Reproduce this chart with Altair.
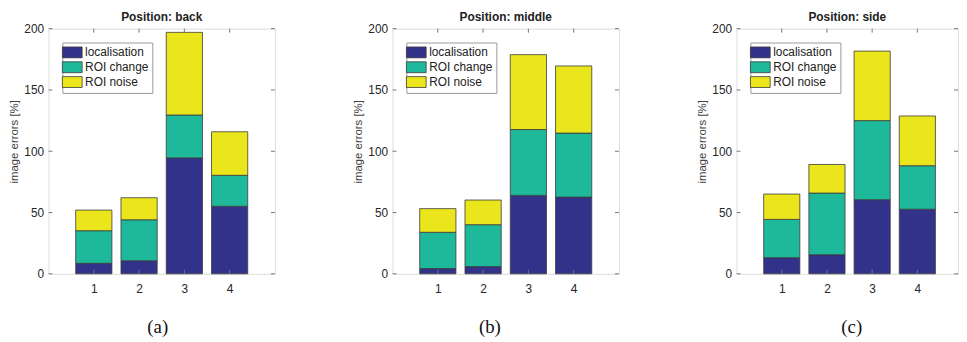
import altair as alt
import pandas as pd

categories = [1, 2, 3, 4]
components = ["localisation", "ROI change", "ROI noise"]
colors = ["#33328a", "#1eb99b", "#ebe61c"]
panel_names = ["back", "middle", "side"]
captions = ["(a)", "(b)", "(c)"]
y_ticks = [0, 50, 100, 150, 200]

back_loc = [8.6, 10.7, 94.6, 55.1]
back_change = [26.6, 33.4, 35.0, 25.3]
back_noise = [16.8, 18.0, 67.4, 35.5]

middle_loc = [4.3, 5.9, 64.0, 62.6]
middle_change = [29.6, 34.2, 53.7, 52.2]
middle_noise = [19.3, 20.1, 61.1, 54.8]

side_loc = [13.2, 15.6, 60.5, 52.7]
side_change = [31.2, 50.3, 64.5, 35.5]
side_noise = [20.7, 23.3, 56.7, 40.6]

series = {
    "back": [back_loc, back_change, back_noise],
    "middle": [middle_loc, middle_change, middle_noise],
    "side": [side_loc, side_change, side_noise],
}

H = 248
UNIT = 45.8
x_domains = {"back": [0, 5], "middle": [0, 5], "side": [0, 4.9]}
caption_x = {"back": 110, "middle": 98, "side": 116}

FONT = "Liberation Sans"


def make_panel(name, caption):
    rows = []
    for k, (comp, vals) in enumerate(zip(components, series[name])):
        for c, v in zip(categories, vals):
            rows.append({"cat": c, "comp": comp, "order": k, "value": v})
    df = pd.DataFrame(rows)
    dom = x_domains[name]
    W = round((dom[1] - dom[0]) * UNIT)
    xscale = alt.Scale(domain=dom, nice=False, zero=False)
    yscale = alt.Scale(domain=[0, 200], nice=False)

    bars = (
        alt.Chart(df)
        .transform_stack(
            stack="value", groupby=["cat"], as_=["y0", "y1"],
            sort=[alt.SortField("order", order="ascending")],
        )
        .transform_calculate(x0="datum.cat - 0.4", x1="datum.cat + 0.4")
        .mark_bar(stroke="#3a3a3a", strokeWidth=0.8)
        .encode(
            x=alt.X(
                "x0:Q", scale=xscale,
                axis=alt.Axis(
                    values=categories, tickSize=0, domain=False, grid=False,
                    labelPadding=10, labelFontSize=12, labelFont=FONT,
                    labelColor="#262626", title=caption,
                    titleFont="Liberation Serif", titleFontSize=19,
                    titleFontWeight="normal", titleColor="#111",
                    titleX=caption_x[name], titleY=53, titleBaseline="middle",
                    titleAlign="center", titleAnchor="start",
                ),
            ),
            x2="x1:Q",
            y=alt.Y(
                "y0:Q", scale=yscale,
                axis=alt.Axis(
                    values=y_ticks, tickSize=0, domain=False, grid=False,
                    labelPadding=5, labelFontSize=12, labelFont=FONT,
                    labelColor="#262626", title="image errors [%]",
                    titleFont=FONT, titleFontSize=11.5, titleFontWeight="normal",
                    titleColor="#404040", titlePadding=4, titleY=114,
                ),
            ),
            y2="y1:Q",
            color=alt.Color(
                "comp:N",
                scale=alt.Scale(domain=components, range=colors),
                legend=alt.Legend(
                    orient="none", legendX=14, legendY=14, title=None,
                    strokeColor="#9a9a9a", fillColor="white", padding=3,
                    symbolType="M-1.6,-0.88H1.6V0.88H-1.6Z", symbolSize=156,
                    symbolStrokeColor="#3a3a3a", symbolStrokeWidth=0.8,
                    symbolOpacity=1, labelFontSize=12, labelFont=FONT,
                    labelColor="#222", labelOffset=6, rowPadding=-1.5,
                ),
            ),
        )
    )

    ydf = pd.DataFrame({"t": y_ticks})
    xdf = pd.DataFrame({"t": categories})
    tick_color = "#777"
    yl = alt.Chart(ydf).mark_rule(color=tick_color).encode(
        y=alt.Y("t:Q", scale=yscale, axis=None), x=alt.value(0), x2=alt.value(4))
    yr = alt.Chart(ydf).mark_rule(color=tick_color).encode(
        y=alt.Y("t:Q", scale=yscale, axis=None), x=alt.value(W - 4), x2=alt.value(W))
    xb = alt.Chart(xdf).mark_rule(color=tick_color).encode(
        x=alt.X("t:Q", scale=xscale, axis=None), y=alt.value(H - 4), y2=alt.value(H))
    xt = alt.Chart(xdf).mark_rule(color=tick_color).encode(
        x=alt.X("t:Q", scale=xscale, axis=None), y=alt.value(0), y2=alt.value(4))

    return (
        alt.layer(bars, yl, yr, xb, xt)
        .resolve_axis(x="independent", y="independent")
        .properties(
            width=W, height=H,
            title=alt.TitleParams(
                "Position: " + name, fontSize=12, fontWeight="bold", font=FONT,
                color="#222", offset=-1,
            ),
        )
    )


chart = (
    alt.hconcat(*[make_panel(n, c) for n, c in zip(panel_names, captions)], spacing=77)
    .resolve_scale(color="independent")
    .properties(padding={"left": 0, "top": 0, "right": 0, "bottom": 0})
    .configure_view(stroke="#9a9a9a", strokeWidth=1)
    .configure(background="white")
)

chart.save("out.html", embed_options={"renderer": "svg", "actions": False})
